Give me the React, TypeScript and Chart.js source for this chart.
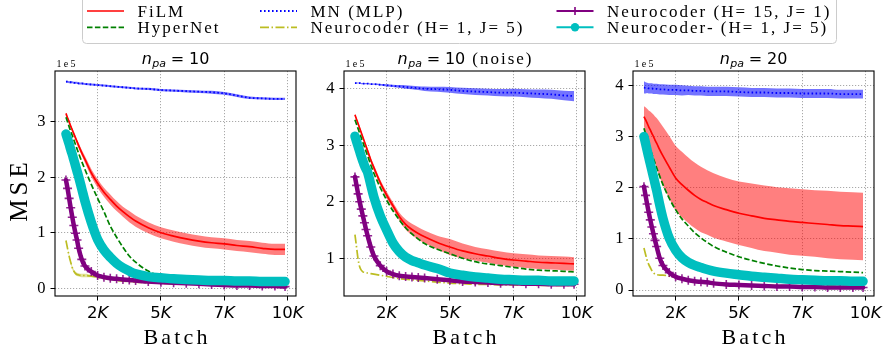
import React, { useEffect, useRef } from "react";
import { Chart, registerables } from "chart.js";
Chart.register(...registerables);

const W = 888;
const H = 356;

const batches = [1250, 1312, 1375, 1437, 1500, 1562, 1625, 1687, 1750, 1875, 2000, 2250, 2500, 2750, 3000, 3250, 3500, 3750, 4000, 4500, 5000, 5500, 6000, 6500, 7000, 7500, 8000, 8500, 9000, 9500, 9900];
const xTicks = [2500, 5000, 7500, 10000];
const xTickLabels = ["2K", "5K", "7K", "10K"];

const seriesNames = ["FiLM", "HyperNet", "MN (MLP)", "Neurocoder (H= 1, J= 5)", "Neurocoder (H= 15, J= 1)", "Neurocoder- (H= 1, J= 5)"];

// panel 1: n_pa = 10   (values in units of 1e5)
const film10 = [3.15, 3.07, 3.0, 2.92, 2.85, 2.78, 2.71, 2.64, 2.57, 2.44, 2.32, 2.08, 1.89, 1.73, 1.6, 1.48, 1.38, 1.29, 1.21, 1.09, 1.0, 0.94, 0.89, 0.85, 0.82, 0.8, 0.77, 0.75, 0.72, 0.7, 0.7];
const film10Std = [0.02, 0.02, 0.03, 0.03, 0.03, 0.04, 0.04, 0.04, 0.05, 0.05, 0.06, 0.07, 0.08, 0.08, 0.09, 0.09, 0.09, 0.1, 0.1, 0.1, 0.1, 0.1, 0.1, 0.1, 0.1, 0.1, 0.1, 0.1, 0.1, 0.1, 0.1];
const hyper10 = [3.08, 3.0, 2.91, 2.83, 2.75, 2.67, 2.59, 2.51, 2.43, 2.28, 2.14, 1.87, 1.62, 1.38, 1.12, 0.92, 0.74, 0.58, 0.47, 0.31, 0.22, 0.16, 0.13, 0.11, 0.1, 0.09, 0.09, 0.08, 0.08, 0.08, 0.08];
const mn10 = [3.72, 3.72, 3.71, 3.71, 3.71, 3.7, 3.7, 3.7, 3.69, 3.69, 3.68, 3.67, 3.66, 3.65, 3.64, 3.63, 3.62, 3.61, 3.6, 3.59, 3.57, 3.56, 3.55, 3.54, 3.53, 3.51, 3.47, 3.43, 3.42, 3.41, 3.41];
const mn10Std = [0.018, 0.018, 0.018, 0.018, 0.018, 0.018, 0.018, 0.018, 0.018, 0.018, 0.018, 0.018, 0.018, 0.018, 0.018, 0.018, 0.018, 0.018, 0.018, 0.02, 0.02, 0.022, 0.022, 0.024, 0.026, 0.026, 0.024, 0.022, 0.02, 0.02, 0.02];
const yellow10 = [0.86, 0.72, 0.58, 0.47, 0.37, 0.31, 0.27, 0.25, 0.24, 0.23, 0.23, 0.22, 0.2, 0.18, 0.16, 0.14, 0.13, 0.12, 0.11, 0.1, 0.09, 0.08, 0.08, 0.07, 0.07, 0.06, 0.06, 0.06, 0.05, 0.05, 0.05];
const yellow10Std = [0.01, 0.01, 0.02, 0.02, 0.03, 0.03, 0.03, 0.03, 0.03, 0.03, 0.03, 0.02, 0.02, 0.02, 0.01, 0.01, 0.01, 0.01, 0.01, 0.01, 0.01, 0.01, 0.01, 0.01, 0.01, 0.01, 0.01, 0.01, 0.01, 0.01, 0.01];
const purple10 = [1.95, 1.8, 1.62, 1.45, 1.28, 1.13, 0.99, 0.87, 0.72, 0.52, 0.4, 0.3, 0.23, 0.2, 0.18, 0.17, 0.16, 0.15, 0.14, 0.12, 0.11, 0.1, 0.09, 0.08, 0.07, 0.06, 0.05, 0.05, 0.04, 0.04, 0.03];
const cyan10 = [2.78, 2.69, 2.6, 2.5, 2.41, 2.31, 2.21, 2.11, 2.01, 1.79, 1.57, 1.19, 0.88, 0.69, 0.56, 0.45, 0.37, 0.31, 0.26, 0.21, 0.19, 0.17, 0.16, 0.15, 0.14, 0.14, 0.13, 0.13, 0.12, 0.12, 0.12];
const cyan10Std = [0.01, 0.01, 0.01, 0.01, 0.01, 0.01, 0.01, 0.01, 0.01, 0.01, 0.01, 0.02, 0.04, 0.06, 0.07, 0.07, 0.06, 0.05, 0.04, 0.03, 0.02, 0.02, 0.02, 0.02, 0.02, 0.02, 0.02, 0.02, 0.02, 0.02, 0.02];

// panel 2: n_pa = 10 (noise)
const film10n = [3.54, 3.46, 3.38, 3.3, 3.22, 3.14, 3.06, 2.98, 2.9, 2.74, 2.6, 2.34, 2.12, 1.93, 1.74, 1.6, 1.51, 1.44, 1.38, 1.28, 1.2, 1.13, 1.08, 1.04, 1.0, 0.97, 0.95, 0.93, 0.92, 0.91, 0.9];
const film10nStd = [0.02, 0.02, 0.02, 0.03, 0.03, 0.03, 0.03, 0.04, 0.04, 0.04, 0.05, 0.05, 0.06, 0.06, 0.07, 0.09, 0.1, 0.11, 0.11, 0.12, 0.14, 0.13, 0.12, 0.12, 0.12, 0.12, 0.12, 0.12, 0.12, 0.12, 0.12];
const hyper10n = [3.45, 3.37, 3.29, 3.21, 3.13, 3.05, 2.97, 2.89, 2.81, 2.65, 2.5, 2.25, 2.03, 1.84, 1.68, 1.54, 1.43, 1.34, 1.26, 1.16, 1.08, 1.0, 0.94, 0.9, 0.87, 0.84, 0.81, 0.79, 0.78, 0.77, 0.76];
const mn10n = [4.1, 4.1, 4.1, 4.1, 4.09, 4.09, 4.09, 4.09, 4.09, 4.08, 4.08, 4.07, 4.06, 4.05, 4.04, 4.03, 4.02, 4.01, 4.0, 3.99, 3.98, 3.96, 3.95, 3.94, 3.93, 3.93, 3.92, 3.91, 3.9, 3.88, 3.87];
const mn10nStd = [0.01, 0.01, 0.01, 0.01, 0.01, 0.01, 0.01, 0.01, 0.01, 0.01, 0.01, 0.015, 0.02, 0.02, 0.025, 0.03, 0.03, 0.035, 0.04, 0.045, 0.05, 0.055, 0.06, 0.06, 0.065, 0.07, 0.07, 0.075, 0.08, 0.085, 0.09];
const yellow10n = [1.42, 1.2, 0.98, 0.85, 0.79, 0.76, 0.75, 0.74, 0.74, 0.73, 0.72, 0.7, 0.68, 0.66, 0.64, 0.63, 0.62, 0.61, 0.6, 0.58, 0.56, 0.55, 0.54, 0.54, 0.53, 0.53, 0.53, 0.52, 0.52, 0.52, 0.52];
const purple10n = [2.44, 2.29, 2.14, 2.0, 1.87, 1.75, 1.63, 1.51, 1.4, 1.2, 1.04, 0.87, 0.77, 0.72, 0.69, 0.68, 0.67, 0.66, 0.65, 0.63, 0.61, 0.59, 0.58, 0.57, 0.56, 0.56, 0.55, 0.55, 0.54, 0.54, 0.54];
const cyan10n = [3.16, 3.07, 2.98, 2.89, 2.8, 2.72, 2.64, 2.58, 2.52, 2.3, 2.08, 1.75, 1.5, 1.27, 1.12, 1.02, 0.96, 0.92, 0.88, 0.82, 0.74, 0.7, 0.67, 0.65, 0.63, 0.62, 0.61, 0.61, 0.6, 0.6, 0.6];
const cyan10nStd = [0.01, 0.01, 0.01, 0.01, 0.01, 0.01, 0.01, 0.01, 0.01, 0.01, 0.01, 0.02, 0.03, 0.05, 0.06, 0.06, 0.06, 0.05, 0.05, 0.04, 0.03, 0.02, 0.02, 0.02, 0.02, 0.02, 0.02, 0.02, 0.02, 0.02, 0.02];

// panel 3: n_pa = 20
const film20 = [3.39, 3.33, 3.26, 3.19, 3.13, 3.06, 3.0, 2.93, 2.87, 2.74, 2.62, 2.4, 2.19, 2.06, 1.95, 1.85, 1.77, 1.71, 1.65, 1.57, 1.5, 1.45, 1.4, 1.37, 1.34, 1.32, 1.3, 1.28, 1.26, 1.25, 1.24];
const film20Std = [0.2, 0.24, 0.28, 0.32, 0.36, 0.4, 0.43, 0.46, 0.49, 0.54, 0.57, 0.61, 0.63, 0.64, 0.64, 0.64, 0.64, 0.63, 0.63, 0.62, 0.62, 0.63, 0.64, 0.64, 0.65, 0.65, 0.65, 0.66, 0.66, 0.66, 0.66];
const hyper20 = [3.16, 3.06, 2.96, 2.86, 2.76, 2.66, 2.57, 2.48, 2.39, 2.22, 2.06, 1.79, 1.57, 1.39, 1.25, 1.12, 1.02, 0.93, 0.85, 0.74, 0.65, 0.58, 0.52, 0.47, 0.43, 0.4, 0.38, 0.37, 0.36, 0.35, 0.34];
const mn20 = [3.96, 3.95, 3.95, 3.94, 3.94, 3.94, 3.93, 3.93, 3.93, 3.92, 3.92, 3.91, 3.91, 3.9, 3.9, 3.89, 3.89, 3.88, 3.88, 3.88, 3.87, 3.86, 3.86, 3.85, 3.85, 3.84, 3.84, 3.84, 3.83, 3.83, 3.83];
const mn20Std = [0.12, 0.11, 0.1, 0.1, 0.1, 0.1, 0.1, 0.1, 0.1, 0.1, 0.1, 0.1, 0.1, 0.1, 0.09, 0.09, 0.09, 0.09, 0.09, 0.09, 0.09, 0.09, 0.09, 0.09, 0.09, 0.09, 0.09, 0.09, 0.085, 0.085, 0.085];
const yellow20 = [0.82, 0.7, 0.58, 0.5, 0.44, 0.38, 0.34, 0.31, 0.3, 0.29, 0.29, 0.27, 0.24, 0.21, 0.18, 0.16, 0.15, 0.14, 0.13, 0.12, 0.11, 0.1, 0.09, 0.09, 0.08, 0.08, 0.08, 0.08, 0.07, 0.07, 0.07];
const purple20 = [2.02, 1.85, 1.68, 1.52, 1.37, 1.23, 1.1, 0.97, 0.85, 0.62, 0.48, 0.34, 0.26, 0.22, 0.19, 0.17, 0.16, 0.15, 0.13, 0.11, 0.1, 0.09, 0.08, 0.07, 0.07, 0.06, 0.06, 0.05, 0.05, 0.05, 0.05];
const cyan20 = [3.0, 2.87, 2.73, 2.6, 2.47, 2.34, 2.21, 2.08, 1.95, 1.66, 1.4, 1.01, 0.78, 0.63, 0.54, 0.48, 0.44, 0.4, 0.37, 0.33, 0.3, 0.27, 0.25, 0.23, 0.21, 0.2, 0.19, 0.18, 0.18, 0.17, 0.17];
const cyan20Std = [0.01, 0.01, 0.01, 0.01, 0.01, 0.01, 0.01, 0.01, 0.01, 0.01, 0.01, 0.02, 0.02, 0.03, 0.03, 0.03, 0.03, 0.03, 0.02, 0.02, 0.02, 0.02, 0.02, 0.02, 0.02, 0.02, 0.02, 0.02, 0.02, 0.02, 0.02];

const yTicks10 = [0, 1, 2, 3];
const yTicks10n = [1, 2, 3, 4];
const yTicks20 = [0, 1, 2, 3, 4];

const COL = {
  film: "#ff0000",
  hyper: "#008000",
  mn: "#0000ff",
  yellow: "#bcbd22",
  purple: "#800080",
  cyan: "#00bfbf",
};

const SERIF = '"Liberation Serif", "Times New Roman", serif';
const SANS = '"DejaVu Sans", sans-serif';

type PanelCfg = {
  num: string;
  suffix: string;
  left: number;
  right: number;
  yMin: number;
  yMax: number;
  yTicks: number[];
  film: number[];
  filmStd: number[];
  hyper: number[];
  mn: number[];
  mnStd: number[];
  yellow: number[];
  yellowStd?: number[];
  purple: number[];
  cyan: number[];
  cyanStd: number[];
};

const panels: PanelCfg[] = [
  { num: "10", suffix: "", left: 55, right: 296, yMin: -0.139, yMax: 3.913, yTicks: yTicks10,
    film: film10, filmStd: film10Std, hyper: hyper10, mn: mn10, mnStd: mn10Std, yellow: yellow10, yellowStd: yellow10Std,
    purple: purple10, cyan: cyan10, cyanStd: cyan10Std },
  { num: "10", suffix: "(noise)", left: 344, right: 585, yMin: 0.333, yMax: 4.313, yTicks: yTicks10n,
    film: film10n, filmStd: film10nStd, hyper: hyper10n, mn: mn10n, mnStd: mn10nStd, yellow: yellow10n,
    purple: purple10n, cyan: cyan10n, cyanStd: cyan10nStd },
  { num: "20", suffix: "", left: 633, right: 874, yMin: -0.117, yMax: 4.28, yTicks: yTicks20,
    film: film20, filmStd: film20Std, hyper: hyper20, mn: mn20, mnStd: mn20Std, yellow: yellow20,
    purple: purple20, cyan: cyan20, cyanStd: cyan20Std },
];

const X_MIN = 817.5;
const X_MAX = 10332.5;
const AX_TOP = 71;
const AX_BOTTOM = 296;
const YW = 30;
const XH = 20;

function pts(arr: number[]) {
  return batches.map((x, i) => ({ x, y: arr[i] }));
}
function bandPts(mean: number[], std: number[], sign: number) {
  return batches.map((x, i) => ({ x, y: mean[i] + sign * std[i] }));
}

function buildDatasets(p: PanelCfg) {
  const ds: any[] = [];
  const addBand = (mean: number[], std: number[], color: string, order: number) => {
    const low = ds.length;
    ds.push({ data: bandPts(mean, std, -1), borderColor: "rgba(0,0,0,0)", borderWidth: 0.01, pointRadius: 0, fill: false, order });
    ds.push({ data: bandPts(mean, std, 1), borderColor: "rgba(0,0,0,0)", borderWidth: 0.01, pointRadius: 0, fill: low, backgroundColor: color, order });
  };
  addBand(p.film, p.filmStd, "rgba(255,0,0,0.5)", 61);
  ds.push({ data: pts(p.film), borderColor: COL.film, borderWidth: 1.7, pointRadius: 0, fill: false, order: 60 });
  ds.push({ data: pts(p.hyper), borderColor: COL.hyper, borderWidth: 1.7, borderDash: [5.5, 2.4], pointRadius: 0, fill: false, order: 50 });
  addBand(p.mn, p.mnStd, "rgba(0,0,255,0.55)", 41);
  ds.push({ data: pts(p.mn), borderColor: COL.mn, borderWidth: 1.8, borderDash: [1.6, 2.4], pointRadius: 0, fill: false, order: 40 });
  if (p.yellowStd) addBand(p.yellow, p.yellowStd, "rgba(188,189,34,0.45)", 31);
  ds.push({ data: pts(p.yellow), borderColor: COL.yellow, borderWidth: 1.7, borderDash: [9, 2.5, 1.5, 2.5], pointRadius: 0, fill: false, order: 30 });
  ds.push({ data: pts(p.purple), borderColor: COL.purple, borderWidth: 4.5, borderCapStyle: "round", borderJoinStyle: "round", pointStyle: "cross", pointRadius: 4.5, pointBorderWidth: 1.6,
    pointBorderColor: "rgba(128,0,128,0.85)", pointBackgroundColor: COL.purple, fill: false, order: 20 });
  addBand(p.cyan, p.cyanStd, "rgba(0,191,191,0.45)", 11);
  ds.push({ data: pts(p.cyan), borderColor: COL.cyan, borderWidth: 9.5, borderCapStyle: "round", borderJoinStyle: "round", pointRadius: 0, fill: false, order: 10 });
  return ds;
}

function spaced(ctx: CanvasRenderingContext2D, text: string, x: number, y: number, font: string, spacing: number, align: "left" | "center" = "left") {
  ctx.font = font;
  (ctx as any).letterSpacing = spacing + "px";
  const w = ctx.measureText(text).width - spacing;
  ctx.textAlign = "left";
  const sx = align === "center" ? x - w / 2 : x;
  ctx.fillText(text, sx, y);
  (ctx as any).letterSpacing = "0px";
  return w;
}

function drawTitle(ctx: CanvasRenderingContext2D, cx: number, base: number, num: string, suffix: string) {
  const fMain = `16px ${SANS}`;
  const fIt = `italic 16px ${SANS}`;
  const fSub = `italic 11px ${SANS}`;
  const fSer = `17px ${SERIF}`;
  const parts: { t: string; f: string; dy: number; gap: number; ls: number }[] = [
    { t: "n", f: fIt, dy: 0, gap: 0, ls: 0 },
    { t: "pa", f: fSub, dy: 3, gap: 0.5, ls: 0 },
    { t: "=", f: fMain, dy: 0, gap: 4.8, ls: 0 },
    { t: num, f: fMain, dy: 0, gap: 4.8, ls: 0 },
  ];
  if (suffix) parts.push({ t: suffix, f: fSer, dy: 0, gap: 7, ls: 2 });
  let total = 0;
  const widths: number[] = [];
  for (const p of parts) {
    ctx.font = p.f;
    (ctx as any).letterSpacing = p.ls + "px";
    const w = ctx.measureText(p.t).width - p.ls;
    widths.push(w);
    total += w + p.gap;
  }
  (ctx as any).letterSpacing = "0px";
  let x = cx - total / 2;
  ctx.textAlign = "left";
  ctx.fillStyle = "#000";
  parts.forEach((p, i) => {
    x += p.gap;
    ctx.font = p.f;
    (ctx as any).letterSpacing = p.ls + "px";
    ctx.fillText(p.t, x, base + p.dy);
    (ctx as any).letterSpacing = "0px";
    x += widths[i];
  });
}

function drawXTickLabel(ctx: CanvasRenderingContext2D, label: string, cx: number, base: number) {
  const num = label.slice(0, -1);
  const k = label.slice(-1);
  const f1 = `16.5px ${SANS}`;
  const f2 = `italic 16.5px ${SANS}`;
  ctx.font = f1;
  const w1 = ctx.measureText(num).width;
  ctx.font = f2;
  const w2 = ctx.measureText(k).width;
  const x = cx - (w1 + w2) / 2;
  ctx.textAlign = "left";
  ctx.font = f1;
  ctx.fillText(num, x, base);
  ctx.font = f2;
  ctx.fillText(k, x + w1, base);
}

function drawLegend(ctx: CanvasRenderingContext2D) {
  ctx.save();
  ctx.beginPath();
  (ctx as any).roundRect(82.5, -4, 754, 47.5, 4);
  ctx.fillStyle = "rgba(255,255,255,0.9)";
  ctx.fill();
  ctx.strokeStyle = "#cccccc";
  ctx.lineWidth = 1;
  ctx.stroke();
  const cols = [137.5, 310.5, 607];
  const rows = [11, 27.3];
  const bases = [16.7, 33.2];
  const font = `17px ${SERIF}`;
  seriesNames.forEach((name, i) => {
    const c = Math.floor(i / 2);
    const r = i % 2;
    const tx = cols[c];
    const ly = rows[r];
    const x0 = tx - 50.5;
    const x1 = tx - 13.5;
    ctx.save();
    ctx.beginPath();
    ctx.moveTo(x0, ly);
    ctx.lineTo(x1, ly);
    ctx.lineCap = "butt";
    if (i === 0) { ctx.strokeStyle = COL.film; ctx.lineWidth = 1.7; ctx.setLineDash([]); }
    if (i === 1) { ctx.strokeStyle = COL.hyper; ctx.lineWidth = 1.7; ctx.setLineDash([5.5, 2.4]); }
    if (i === 2) { ctx.strokeStyle = COL.mn; ctx.lineWidth = 1.8; ctx.setLineDash([1.6, 2.4]); }
    if (i === 3) { ctx.strokeStyle = COL.yellow; ctx.lineWidth = 1.7; ctx.setLineDash([9, 2.5, 1.5, 2.5]); }
    if (i === 4) { ctx.strokeStyle = COL.purple; ctx.lineWidth = 1.8; ctx.setLineDash([]); }
    if (i === 5) { ctx.strokeStyle = COL.cyan; ctx.lineWidth = 2; ctx.setLineDash([]); }
    ctx.stroke();
    ctx.setLineDash([]);
    const mx = (x0 + x1) / 2;
    if (i === 4) {
      ctx.beginPath();
      ctx.moveTo(mx, ly - 4);
      ctx.lineTo(mx, ly + 4);
      ctx.moveTo(mx - 4, ly);
      ctx.lineTo(mx + 4, ly);
      ctx.lineWidth = 1.6;
      ctx.stroke();
    }
    if (i === 5) {
      ctx.beginPath();
      ctx.arc(mx, ly, 4.2, 0, Math.PI * 2);
      ctx.fillStyle = COL.cyan;
      ctx.fill();
    }
    ctx.restore();
    ctx.fillStyle = "#000";
    spaced(ctx, name, tx, bases[r], font, 2);
  });
  ctx.restore();
}

function makeChart(canvas: HTMLCanvasElement, p: PanelCfg, first: boolean) {
  const decor = {
    id: "decor",
    afterDraw(chart: any) {
      const ctx: CanvasRenderingContext2D = chart.ctx;
      const a = chart.chartArea;
      ctx.save();
      ctx.strokeStyle = "#000";
      ctx.lineWidth = 1.1;
      ctx.setLineDash([]);
      ctx.strokeRect(a.left, a.top, a.right - a.left, a.bottom - a.top);
      ctx.fillStyle = "#000";
      ctx.textBaseline = "alphabetic";
      const xs = chart.scales.x;
      xTicks.forEach((v, i) => drawXTickLabel(ctx, xTickLabels[i], xs.getPixelForValue(v), 318));
      spaced(ctx, "Batch", (a.left + a.right) / 2, 344, `22px ${SERIF}`, 3.2, "center");
      spaced(ctx, "1e5", a.left + 1.5, 66.7, `10px ${SERIF}`, 2.3, "left");
      drawTitle(ctx, (a.left + a.right) / 2, 63.5, p.num, p.suffix);
      if (first) {
        ctx.save();
        ctx.translate(27, 192);
        ctx.rotate(-Math.PI / 2);
        spaced(ctx, "MSE", 0, 0, `25px ${SERIF}`, 4, "center");
        ctx.restore();
        drawLegend(ctx);
      }
      ctx.restore();
    },
  };

  const gridCommon = {
    color: "rgba(110,110,110,0.75)",
    lineWidth: 0.8,
    drawTicks: true,
    tickLength: 4.5,
    tickColor: "#000",
    tickWidth: 1,
  };

  return new Chart(canvas, {
    type: "line",
    data: { datasets: buildDatasets(p) },
    plugins: [decor],
    options: {
      responsive: false,
      maintainAspectRatio: false,
      animation: false,
      events: [],
      layout: {
        padding: { left: p.left - YW, right: W - p.right, top: AX_TOP, bottom: H - AX_BOTTOM - XH },
      },
      elements: {
        line: { cubicInterpolationMode: "monotone" },
      },
      plugins: {
        legend: { display: false },
        tooltip: { enabled: false },
        title: { display: false },
        filler: { propagate: false },
      } as any,
      scales: {
        x: {
          type: "linear",
          min: X_MIN,
          max: X_MAX,
          afterBuildTicks: (s: any) => { s.ticks = xTicks.map((v) => ({ value: v })); },
          afterFit: (s: any) => { s.height = XH; s.paddingLeft = 0; s.paddingRight = 0; },
          ticks: { display: false },
          grid: gridCommon,
          border: { display: false, dash: [1.2, 1.8] },
        },
        y: {
          type: "linear",
          min: p.yMin,
          max: p.yMax,
          afterBuildTicks: (s: any) => { s.ticks = p.yTicks.map((v) => ({ value: v })); },
          afterFit: (s: any) => { s.width = YW; s.paddingTop = 0; s.paddingBottom = 0; },
          ticks: { color: "#000", font: { family: SERIF, size: 16.5 }, padding: 5, callback: (v: any) => String(v) },
          grid: gridCommon,
          border: { display: false, dash: [1.2, 1.8] },
        },
      } as any,
    } as any,
  });
}

export default function App() {
  const r1 = useRef<HTMLCanvasElement>(null);
  const r2 = useRef<HTMLCanvasElement>(null);
  const r3 = useRef<HTMLCanvasElement>(null);
  useEffect(() => {
    document.body.style.margin = "0";
    const refs = [r1, r2, r3];
    const charts = refs.map((r, i) => makeChart(r.current as HTMLCanvasElement, panels[i], i === 0));
    return () => charts.forEach((c) => c.destroy());
  }, []);
  return (
    <div style={{ position: "relative", width: W, height: H, background: "#fff", overflow: "hidden" }}>
      {[r1, r2, r3].map((r, i) => (
        <canvas key={i} ref={r} width={W} height={H} style={{ position: "absolute", left: 0, top: 0 }} />
      ))}
    </div>
  );
}
